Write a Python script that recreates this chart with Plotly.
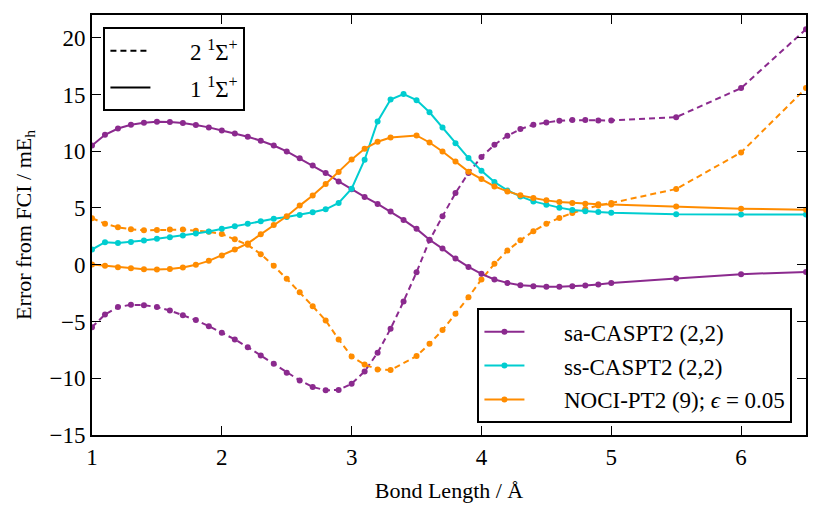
import plotly.graph_objects as go

# bond lengths (Angstrom)
bond = [1.0, 1.1, 1.2, 1.3, 1.4, 1.5, 1.6, 1.7, 1.8, 1.9,
        2.0, 2.1, 2.2, 2.3, 2.4, 2.5, 2.6, 2.7, 2.8, 2.9,
        3.0, 3.1, 3.2, 3.3, 3.4, 3.5, 3.6, 3.7, 3.8, 3.9,
        4.0, 4.1, 4.2, 4.3, 4.4, 4.5, 4.6, 4.7, 4.8, 4.9,
        5.0, 5.5, 6.0, 6.5]
# NOCI has no point at 3.4
bond_noci = [1.0, 1.1, 1.2, 1.3, 1.4, 1.5, 1.6, 1.7, 1.8, 1.9,
             2.0, 2.1, 2.2, 2.3, 2.4, 2.5, 2.6, 2.7, 2.8, 2.9,
             3.0, 3.1, 3.2, 3.3, 3.5, 3.6, 3.7, 3.8, 3.9,
             4.0, 4.1, 4.2, 4.3, 4.4, 4.5, 4.6, 4.7, 4.8, 4.9,
             5.0, 5.5, 6.0, 6.5]

sa_ground = [10.5, 11.45, 12.0, 12.33, 12.5, 12.6, 12.57, 12.48, 12.3, 12.1,
             11.83, 11.57, 11.28, 10.92, 10.5, 9.98, 9.37, 8.75, 8.08, 7.34,
             6.64, 5.97, 5.36, 4.68, 3.95, 3.16, 2.2, 1.42, 0.54, -0.19,
             -0.8, -1.3, -1.6, -1.8, -1.89, -1.95, -1.93, -1.89, -1.83, -1.74,
             -1.62, -1.21, -0.83, -0.63]
sa_excited = [-5.5, -4.38, -3.73, -3.53, -3.56, -3.73, -4.03, -4.44, -4.88, -5.41,
              -5.99, -6.58, -7.26, -7.99, -8.72, -9.51, -10.19, -10.77, -11.06, -11.03,
              -10.48, -9.4, -7.75, -5.64, -3.23, -0.66, 2.15, 4.27, 6.32, 8.08,
              9.49, 10.57, 11.36, 11.95, 12.33, 12.53, 12.68, 12.74, 12.74, 12.71,
              12.71, 13.0, 15.56, 20.75]
ss_ground = [1.34, 1.98, 1.92, 2.01, 2.13, 2.28, 2.42, 2.57, 2.76, 2.92,
             3.18, 3.39, 3.6, 3.83, 4.05, 4.21, 4.39, 4.62, 4.88, 5.44,
             6.7, 9.25, 12.62, 14.55, 15.03, 14.5, 13.43, 12.09, 10.7, 9.4,
             8.28, 7.29, 6.55, 6.02, 5.58, 5.29, 5.03, 4.83, 4.71, 4.65,
             4.59, 4.44, 4.42, 4.42]
noci_ground = [0.02, -0.1, -0.22, -0.32, -0.4, -0.42, -0.38, -0.25, -0.01, 0.34,
               0.81, 1.34, 1.88, 2.69, 3.5, 4.27, 5.21, 6.09, 7.11, 8.17,
               9.28, 10.22, 10.83, 11.2, 11.39, 10.77, 9.98, 9.1, 8.2,
               7.55, 6.9, 6.46, 6.11, 5.88, 5.67, 5.53, 5.44, 5.38, 5.32,
               5.3, 5.12, 4.94, 4.85]
noci_excited = [4.1, 3.62, 3.3, 3.12, 3.03, 3.05, 3.1, 3.1, 3.0, 2.9,
                2.7, 2.25, 1.75, 0.93, -0.1, -1.24, -2.42, -3.65, -4.91, -6.58,
                -8.08, -8.8, -9.22, -9.28, -8.05, -6.96, -5.76, -4.32, -2.86,
                -1.3, 0.08, 1.25, 2.15, 2.95, 3.62, 4.12, 4.56, 4.91, 5.21,
                5.44, 6.67, 9.89, 15.56]

purple = "#8b2a8e"
cyan = "#00cdd0"
orange = "#ff8c00"
font = "Liberation Serif, DejaVu Serif, serif"
dash = "6px,4px"

fig = go.Figure()

series = [
    (bond, sa_excited, purple, dash),
    (bond_noci, noci_excited, orange, dash),
    (bond, sa_ground, purple, "solid"),
    (bond, ss_ground, cyan, "solid"),
    (bond_noci, noci_ground, orange, "solid"),
]
for xs, ys, col, ds in series:
    fig.add_trace(go.Scatter(x=xs, y=ys, mode="lines+markers", showlegend=False,
                             line=dict(color=col, width=2, dash=ds),
                             marker=dict(color=col, size=6)))

# state legend (top left)
for name, ds in [("2 <sup>1</sup>Σ<sup>+</sup>", dash), ("1 <sup>1</sup>Σ<sup>+</sup>", "solid")]:
    fig.add_trace(go.Scatter(x=[None], y=[None], mode="lines", name="      " + name,
                             line=dict(color="black", width=2, dash=ds),
                             legend="legend", legendgroup=name))

# method legend (bottom right)
for name, col in [("sa-CASPT2 (2,2)", purple), ("ss-CASPT2 (2,2)", cyan),
                  ("NOCI-PT2 (9); <i>ϵ</i> = 0.05", orange)]:
    fig.add_trace(go.Scatter(x=[None], y=[None], mode="lines+markers", name="      " + name,
                             line=dict(color=col, width=2), marker=dict(color=col, size=6),
                             legend="legend2", legendgroup=name))

axis = dict(showline=True, linecolor="black", linewidth=2, mirror="ticks",
            ticks="inside", ticklen=9, tickwidth=1, tickcolor="black",
            showgrid=False, zeroline=False, automargin=False,
            tickfont=dict(family=font, size=23, color="black"))

# page body has an 8px margin, so the figure is a bit smaller than the window
fig.update_layout(
    width=822, height=499,
    margin=dict(l=84, r=24, t=7, b=72),
    plot_bgcolor="white", paper_bgcolor="white",
    font=dict(family=font, color="black"),
    xaxis=dict(range=[1, 6.5], tickvals=[1, 2, 3, 4, 5, 6],
               title=dict(text="Bond Length / Å", font=dict(family=font, size=22), standoff=14),
               **axis),
    yaxis=dict(range=[-15, 22], tickvals=[-15, -10, -5, 0, 5, 10, 15, 20],
               title=dict(text="Error from FCI / mE<sub>h</sub>", font=dict(family=font, size=22), standoff=12),
               **axis),
    legend=dict(x=0.016, y=0.971, xanchor="left", yanchor="top",
                bordercolor="black", borderwidth=2, bgcolor="white",
                font=dict(family=font, size=23), traceorder="grouped",
                tracegroupgap=4, itemwidth=40),
    legend2=dict(x=0.981, y=0.028, xanchor="right", yanchor="bottom",
                 bordercolor="black", borderwidth=2, bgcolor="white",
                 font=dict(family=font, size=23), traceorder="grouped",
                 tracegroupgap=1, itemwidth=40),
)

fig.write_html("out.html")
